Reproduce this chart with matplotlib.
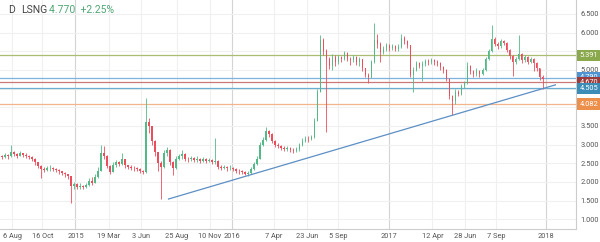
import numpy as np
import pandas as pd
import matplotlib
matplotlib.use("Agg")
import matplotlib.pyplot as plt
import matplotlib.dates as mdates

plt.rcParams["font.family"] = ["Roboto", "DejaVu Sans"]

# weekly candles, LSNG
first_week = "2014-07-07"
close = [
    2.70, 2.66, 2.72, 2.68, 2.80, 2.74, 2.70, 2.76, 2.72, 2.70,
    2.66, 2.62, 2.52, 2.42, 2.34, 2.32, 2.36, 2.38, 2.34, 2.32,
    2.28, 2.24, 2.20, 2.16, 1.88, 1.94, 1.86, 1.90, 1.86, 1.92,
    2.02, 1.98, 2.14, 2.30, 2.78, 2.70, 2.42, 2.26, 2.44, 2.52,
    2.48, 2.60, 2.44, 2.40, 2.38, 2.36, 2.34, 2.30, 2.26, 3.60,
    3.50, 3.10, 2.80, 2.50, 2.40, 2.78, 2.86, 2.52, 2.36, 2.62,
    2.68, 2.74, 2.62, 2.60, 2.64, 2.58, 2.62, 2.56, 2.60, 2.56,
    2.58, 2.54, 2.56, 2.40, 2.38, 2.40, 2.36, 2.38, 2.34, 2.30,
    2.28, 2.26, 2.22, 2.24, 2.34, 2.48, 2.62, 3.00, 3.12, 3.36,
    3.28, 3.10, 3.00, 2.96, 2.92, 2.88, 2.90, 2.86, 2.84, 2.88,
    2.98, 3.10, 3.16, 3.14, 3.20, 3.64, 4.40, 5.80, 5.50, 5.30,
    5.10, 5.36, 5.20, 5.34, 5.30, 5.46, 5.30, 5.26, 5.34, 5.20,
    5.28, 5.04, 4.86, 4.80, 5.20, 5.80, 5.70, 5.48, 5.56, 5.66,
    5.58, 5.64, 5.56, 5.62, 5.86, 5.78, 5.66, 4.86, 5.00, 5.18,
    5.10, 5.16, 5.24, 5.20, 5.26, 5.22, 5.18, 5.08, 5.00, 4.76,
    4.30, 4.16, 4.40, 4.36, 4.56, 4.64, 5.10, 4.96, 4.88, 4.96,
    4.90, 5.00, 5.30, 5.50, 5.84, 5.70, 5.64, 5.78, 5.72, 5.54,
    5.38, 5.22, 5.30, 5.44, 5.26, 5.34, 5.22, 5.30, 5.18, 5.04,
    4.82, 4.77,
]
high = [
    2.78, 2.72, 2.78, 2.74, 2.99, 2.84, 2.78, 2.84, 2.78, 2.76,
    2.72, 2.70, 2.64, 2.52, 2.46, 2.40, 2.42, 2.44, 2.40, 2.38,
    2.34, 2.30, 2.26, 2.22, 2.14, 2.00, 1.96, 1.96, 1.92, 1.98,
    2.10, 2.12, 2.22, 2.40, 2.99, 2.96, 2.72, 2.44, 2.52, 2.58,
    2.56, 2.76, 2.62, 2.46, 2.44, 2.42, 2.40, 2.36, 2.32, 4.25,
    3.70, 3.48, 3.12, 2.80, 2.56, 2.86, 2.94, 2.88, 2.56, 2.68,
    2.74, 2.86, 2.76, 2.66, 2.70, 2.66, 2.68, 2.64, 2.66, 2.64,
    2.64, 2.60, 3.18, 2.58, 2.44, 2.46, 2.42, 2.44, 2.40, 2.38,
    2.34, 2.32, 2.28, 2.28, 2.40, 2.54, 2.70, 3.08, 3.20, 3.47,
    3.40, 3.30, 3.12, 3.04, 3.00, 2.96, 2.96, 2.94, 2.90, 2.94,
    3.04, 3.18, 3.22, 3.22, 3.26, 3.72, 4.50, 5.94, 5.86, 5.56,
    5.36, 5.42, 5.40, 5.40, 5.38, 5.52, 5.48, 5.34, 5.40, 5.38,
    5.34, 5.30, 5.06, 4.92, 5.26, 6.26, 5.96, 5.74, 5.64, 5.72,
    5.70, 5.70, 5.68, 5.70, 5.96, 5.92, 5.80, 5.66, 5.08, 5.24,
    5.22, 5.24, 5.30, 5.28, 5.32, 5.30, 5.26, 5.20, 5.10, 5.02,
    4.78, 4.32, 4.48, 4.46, 4.62, 4.70, 5.20, 5.12, 5.00, 5.04,
    5.00, 5.06, 5.36, 5.56, 6.20, 5.88, 5.74, 5.84, 5.80, 5.74,
    5.56, 5.40, 5.36, 5.94, 5.46, 5.40, 5.38, 5.36, 5.32, 5.20,
    5.06, 4.86,
]
low = [
    2.62, 2.60, 2.64, 2.62, 2.66, 2.68, 2.64, 2.68, 2.66, 2.64,
    2.60, 2.56, 2.46, 2.36, 2.10, 2.26, 2.28, 2.30, 2.28, 2.26,
    2.22, 2.18, 2.14, 2.08, 1.43, 1.80, 1.80, 1.82, 1.80, 1.84,
    1.90, 1.92, 1.98, 2.10, 2.30, 2.60, 2.36, 2.20, 2.26, 2.40,
    2.42, 2.46, 2.38, 2.34, 2.32, 2.30, 2.28, 2.24, 2.20, 2.24,
    3.30, 3.00, 2.70, 2.30, 1.55, 2.36, 2.70, 2.46, 2.18, 2.34,
    2.58, 2.62, 2.56, 2.54, 2.56, 2.52, 2.54, 2.50, 2.52, 2.50,
    2.52, 2.48, 2.48, 2.34, 2.32, 2.34, 2.30, 2.32, 2.28, 2.24,
    2.22, 2.20, 2.18, 2.17, 2.20, 2.32, 2.46, 2.60, 2.96, 3.10,
    3.20, 3.04, 2.94, 2.90, 2.86, 2.82, 2.84, 2.80, 2.78, 2.80,
    2.84, 2.96, 3.06, 3.08, 3.12, 3.18, 3.62, 4.40, 5.40, 3.34,
    5.02, 5.00, 5.10, 5.16, 5.22, 5.26, 5.24, 5.12, 5.20, 5.14,
    5.10, 4.98, 4.80, 4.65, 4.78, 5.18, 5.60, 5.20, 5.44, 5.50,
    5.52, 5.54, 5.50, 5.52, 5.60, 5.70, 5.60, 4.80, 4.41, 4.96,
    5.04, 4.70, 5.10, 5.12, 5.16, 5.14, 5.10, 5.00, 4.92, 4.70,
    4.22, 3.79, 4.10, 4.30, 4.34, 4.52, 4.62, 4.90, 4.80, 4.84,
    4.82, 4.86, 4.98, 5.26, 5.48, 5.64, 5.56, 5.60, 5.66, 5.48,
    5.30, 4.83, 5.16, 5.26, 5.18, 5.20, 5.16, 5.18, 4.96, 4.98,
    4.74, 4.50,
]
first_open = 2.72

# horizontal levels: (value, line colour, label text, label colour)
levels = [
    (5.391, "#a9bd73", "5.391", "#8aa84c"),
    (4.790, "#7db3de", "4.790", "#4f93d0"),
    (4.670, "#c97a78", "4.670", "#9c3b3b"),
    (4.505, "#6aaed0", "4.505", "#3b8db8"),
    (4.082, "#f2b58c", "4.082", "#ec8f4a"),
]
trend_dates = ["2015-08-06", "2018-01-24"]
trend_vals = [1.54, 4.60]

tick_dates = ["2014-08-06", "2014-10-16", "2015-01-01", "2015-03-19", "2015-06-03",
              "2015-08-25", "2015-11-10", "2016-01-01", "2016-04-07", "2016-06-23",
              "2016-09-05", "2017-01-01", "2017-04-12", "2017-06-28", "2017-09-07",
              "2018-01-01"]
tick_labels = ["6 Aug", "16 Oct", "2015", "19 Mar", "3 Jun", "25 Aug", "10 Nov", "2016",
               "7 Apr", "23 Jun", "5 Sep", "2017", "12 Apr", "28 Jun", "7 Sep", "2018"]

# price scale labels hidden behind the level boxes
hidden_ticks = [4.0, 4.5, 5.5]

UP = "#53b987"
DOWN = "#eb4d5c"

dates = pd.date_range(first_week, periods=len(close), freq="7D")
x = mdates.date2num(dates)
c = np.array(close)
o = np.concatenate([[first_open], c[:-1]])
h = np.array(high)
lo = np.array(low)
colors = np.where(c >= o, UP, DOWN)

fig = plt.figure(figsize=(6, 2.42), dpi=100)
ax = fig.add_axes([0, 1 - 229 / 242, 576 / 600, 229 / 242])

ax.vlines(x, lo, h, colors=colors, linewidth=0.6, zorder=3)
body = np.abs(c - o)
body = np.maximum(body, 0.02)
ax.bar(x, body, bottom=np.minimum(o, c), width=4.0, color=colors, linewidth=0, zorder=3)

for val, lc, txt, bc in levels:
    ax.axhline(val, color=lc, linewidth=0.9, zorder=2)

ax.plot(mdates.date2num(pd.to_datetime(trend_dates)), trend_vals,
        color="#5d8fc4", linewidth=0.9, zorder=4)

ax.set_xlim(mdates.date2num(pd.Timestamp("2014-07-09")),
            mdates.date2num(pd.Timestamp("2018-03-13")))
ax.set_ylim(0.736, 6.875)

tx = mdates.date2num(pd.to_datetime(tick_dates))
ax.set_xticks(tx)
ax.set_xticklabels(tick_labels)
for t, lab in zip(tx, tick_labels):
    year = lab.isdigit()
    ax.axvline(t, color="#d4d4d4" if year else "#f0f0f0", linewidth=0.8, zorder=0)

yt = np.arange(1.0, 6.51, 0.5)
ax.set_yticks(yt)
ax.set_yticklabels(["" if round(v, 1) in hidden_ticks else f"{v:.3f}" for v in yt])
for v in yt:
    ax.axhline(v, color="#f0f0f0", linewidth=0.8, zorder=0)

ax.yaxis.tick_right()
ax.tick_params(axis="both", length=0, labelsize=5.3, labelcolor="#555555")
ax.tick_params(axis="y", pad=3)
ax.tick_params(axis="x", pad=3)

for s in ["top", "left"]:
    ax.spines[s].set_visible(False)
ax.spines["right"].set_color("#cccccc")
ax.spines["bottom"].set_color("#cccccc")
ax.spines["right"].set_linewidth(0.8)
ax.spines["bottom"].set_linewidth(0.8)

trans = ax.get_yaxis_transform()
for k, (val, lc, txt, bc) in enumerate(levels):
    ax.text(1.006, val, txt, transform=trans, ha="left", va="center",
            fontsize=5.3, color="white", clip_on=False, zorder=6 + k,
            bbox=dict(boxstyle="square,pad=0.3", fc=bc, ec="none"))

fig.text(8 / 600, 1 - 10 / 242, "D", fontsize=7.5, color="#444444", va="center")
fig.text(21 / 600, 1 - 10 / 242, "LSNG", fontsize=7.5, color="#444444", va="center")
fig.text(49 / 600, 1 - 10 / 242, "4.770  +2.25%", fontsize=7.5, color="#4fa876", va="center")

fig.savefig("out.png", dpi=100)
